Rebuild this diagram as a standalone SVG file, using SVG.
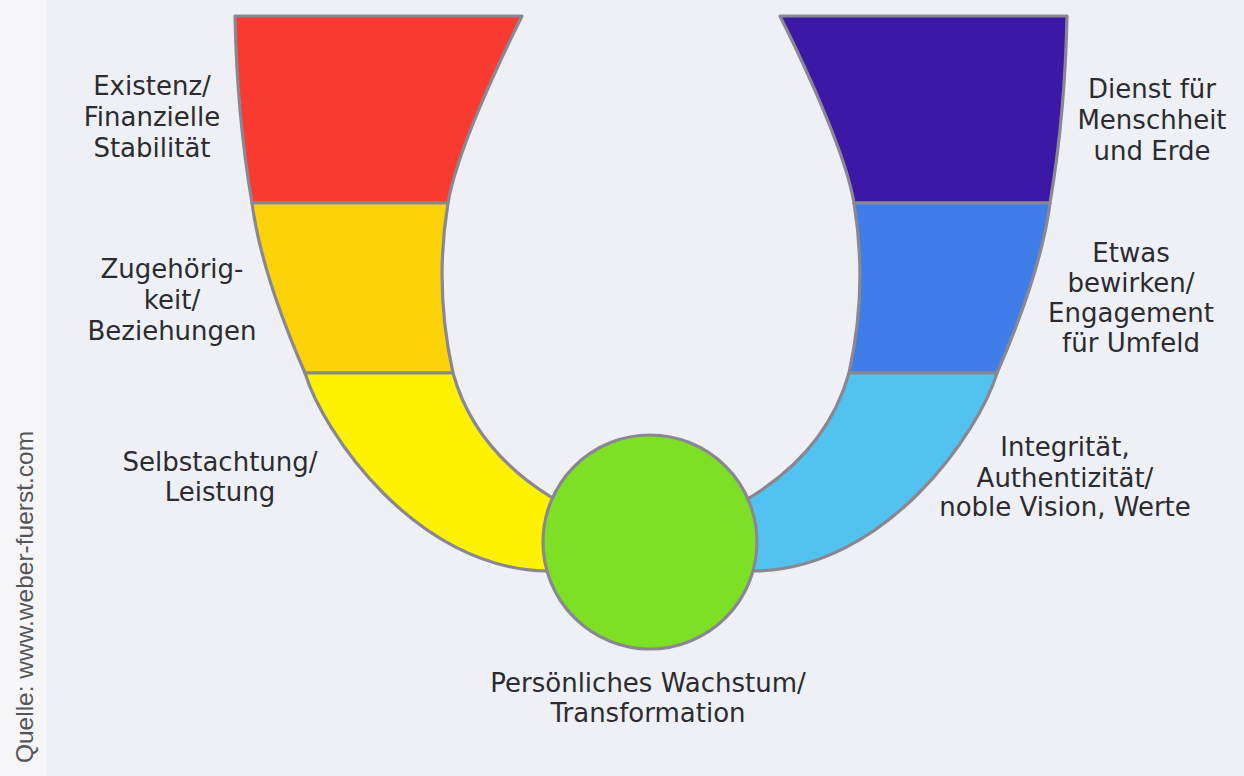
<svg xmlns="http://www.w3.org/2000/svg" width="1244" height="776" viewBox="0 0 1244 776">
  <style>
    .seg { stroke: #8a8792; stroke-width: 3.2; stroke-linejoin: round; }
    .lbl { font-family: "DejaVu Sans", "Liberation Sans", sans-serif; font-size: 26px; fill: #2b2b30; text-anchor: middle; }
    .src { font-family: "Liberation Sans", Arial, sans-serif; font-size: 24.5px; fill: #555558; text-anchor: middle; }
  </style>
  <rect x="0" y="0" width="1244" height="776" fill="#eef0f6"/>
  <rect x="0" y="0" width="46" height="776" fill="#f6f6f9"/>
  <text class="src" transform="translate(33,597) rotate(-90)">Quelle: www.weber-fuerst.com</text>

  <g id="existenz">
    <path class="seg" fill="#f83a30" d="M235,16 L522,16 C495,70 456,155 448,203 L252,203 Q237,115 235,16 Z"/>
    <text class="lbl" x="152" y="95">Existenz/</text>
    <text class="lbl" x="152" y="126">Finanzielle</text>
    <text class="lbl" x="152" y="157">Stabilität</text>
  </g>
  <g id="zugehoerigkeit">
    <path class="seg" fill="#fcd208" d="M252,203 L448,203 Q434,288 453,373 L305,373 Q261,272 252,203 Z"/>
    <text class="lbl" x="172" y="278">Zugehörig-</text>
    <text class="lbl" x="172" y="309">keit/</text>
    <text class="lbl" x="172" y="340">Beziehungen</text>
  </g>
  <g id="selbstachtung">
    <path class="seg" fill="#fff200" d="M305,373 L453,373 Q474,449 551,497 L600,520 L600,570 L546,571 C415,568 323,432 305,373 Z"/>
    <text class="lbl" x="220" y="471">Selbstachtung/</text>
    <text class="lbl" x="220" y="501">Leistung</text>
  </g>
  <g id="dienst">
    <path class="seg" fill="#3b18a6" d="M1067,16 L780,16 C807,70 846,155 854,203 L1050,203 Q1065,115 1067,16 Z"/>
    <text class="lbl" x="1152" y="98">Dienst für</text>
    <text class="lbl" x="1152" y="129">Menschheit</text>
    <text class="lbl" x="1152" y="160">und Erde</text>
  </g>
  <g id="etwas-bewirken">
    <path class="seg" fill="#3f7ee8" d="M1050,203 L854,203 Q868,288 849,373 L997,373 Q1041,272 1050,203 Z"/>
    <text class="lbl" x="1131" y="262">Etwas</text>
    <text class="lbl" x="1131" y="292">bewirken/</text>
    <text class="lbl" x="1131" y="322">Engagement</text>
    <text class="lbl" x="1131" y="352">für Umfeld</text>
  </g>
  <g id="integritaet">
    <path class="seg" fill="#52c3f1" d="M997,373 L849,373 Q828,449 751,497 L702,520 L702,570 L756,571 C887,568 979,432 997,373 Z"/>
    <text class="lbl" x="1065" y="456">Integrität,</text>
    <text class="lbl" x="1065" y="487">Authentizität/</text>
    <text class="lbl" x="1065" y="516">noble Vision, Werte</text>
  </g>
  <g id="wachstum">
    <circle class="seg" fill="#7de024" cx="650" cy="542" r="107"/>
    <text class="lbl" x="648" y="692">Persönliches Wachstum/</text>
    <text class="lbl" x="648" y="722">Transformation</text>
  </g>
  <g id="connectors"/>
</svg>
